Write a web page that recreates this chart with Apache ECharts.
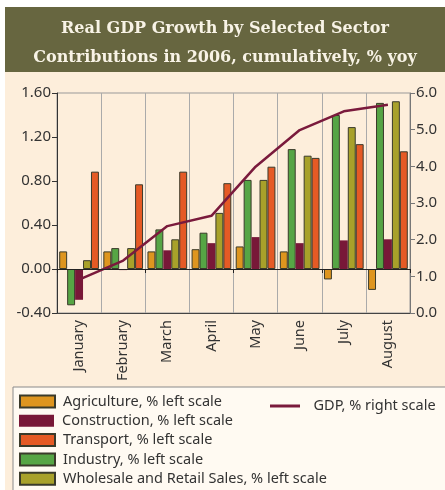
<!DOCTYPE html>
<html>
<head>
<meta charset="utf-8">
<script src="https://cdn.jsdelivr.net/npm/echarts@6/dist/echarts.min.js"></script>
<style>
html,body{margin:0;padding:0;background:#fff;}
#c{width:445px;height:490px;}
</style>
</head>
<body>
<div id="c"></div>
<script>
const months = ['January','February','March','April','May','June','July','August'];
const agriculture = [0.16, 0.16, 0.16, 0.18, 0.205, 0.16, -0.095, -0.19];
const industry = [-0.33, 0.19, 0.36, 0.33, 0.81, 1.09, 1.40, 1.51];
const construction = [-0.28, -0.01, 0.17, 0.235, 0.29, 0.235, 0.26, 0.27];
const wholesale = [0.08, 0.19, 0.27, 0.51, 0.81, 1.03, 1.29, 1.525];
const transport = [0.885, 0.77, 0.885, 0.78, 0.93, 1.01, 1.135, 1.07];
const gdp = [0.91, 1.43, 2.37, 2.65, 3.99, 4.99, 5.50, 5.68];
const leftTicks = [-0.4, 0, 0.4, 0.8, 1.2, 1.6];
const rightTicks = [0, 1, 2, 3, 4, 5, 6];
const barNames = ['Agriculture, % left scale','Construction, % left scale','Transport, % left scale','Industry, % left scale','Wholesale and Retail Sales, % left scale'];

const FONT = 'Noto Sans';
const chart = echarts.init(document.getElementById('c'));
const barBorder = {borderColor:'#3a3a2a', borderWidth:1};
function bar(name, data, color, border){
  return {name, type:'bar', data, xAxisIndex:0, yAxisIndex:0, barGap:'0%', barCategoryGap:'10%',
    itemStyle: Object.assign({color}, border ? barBorder : {borderWidth:0}), z:2};
}
const legendText = {fontFamily:FONT, fontSize:14.5, color:'#333', padding:[0,0,0,3]};
const legends = barNames.map((n,i)=>({data:[n], left:19, top:394 + i*19.3, itemWidth:35, itemHeight:12,
  padding:0, icon:'rect', textStyle:legendText}));
legends.push({data:[{name:'GDP, % right scale', icon:'path://M0,0 L10,0 L10,1 L0,1 Z'}],
  left:270, top:398.5, itemWidth:35, itemHeight:3, padding:0,
  textStyle:Object.assign({}, legendText, {padding:[0,0,0,6]})});

chart.setOption({
  animation:false,
  backgroundColor:'#fdeedb',
  graphic:[
    {type:'rect', shape:{x:0,y:0,width:445,height:7}, style:{fill:'#ffffff'}, silent:true, z:-10},
    {type:'rect', shape:{x:0,y:0,width:5,height:490}, style:{fill:'#ffffff'}, silent:true, z:-10},
    {type:'rect', shape:{x:5,y:7,width:440,height:65}, style:{fill:'#676640'}, silent:true, z:-5},
    {type:'text', x:225, y:14, style:{text:'Real GDP Growth by Selected Sector\nContributions in 2006, cumulatively, % yoy',
      fill:'#f8f3e6', fontFamily:'DejaVu Serif', fontWeight:'bold', fontSize:16,
      textAlign:'center', lineHeight:29}, silent:true},
    {type:'rect', shape:{x:13,y:387,width:440,height:110}, style:{fill:'#fffaf2', stroke:'#8a8a8a', lineWidth:1}, silent:true, z:-5}
  ],
  grid:{left:57, right:35, top:93, bottom:177, show:true, borderColor:'#999', borderWidth:1},
  xAxis:[
    {type:'category', data:months, position:'bottom',
      axisLine:{onZero:false, lineStyle:{color:'#444'}},
      axisTick:{show:false},
      splitLine:{show:true, lineStyle:{color:'#aaa', width:1}},
      axisLabel:{rotate:90, fontFamily:FONT, fontSize:14.5, color:'#333', margin:7}},
    {type:'category', data:months, position:'bottom',
      axisLine:{onZero:true, onZeroAxisIndex:0, lineStyle:{color:'#222', width:1}},
      axisTick:{show:true, length:4, lineStyle:{color:'#222'}},
      axisLabel:{show:false}, splitLine:{show:false}, z:5}
  ],
  yAxis:[
    {type:'value', min:-0.4, max:1.6, interval:0.4, position:'left',
      axisLine:{show:true, lineStyle:{color:'#333'}},
      axisTick:{show:true, length:5, lineStyle:{color:'#333'}},
      splitLine:{show:false},
      axisLabel:{fontFamily:FONT, fontSize:15, color:'#333', margin:6, formatter:v=>v.toFixed(2)}},
    {type:'value', min:0, max:6, interval:1, position:'right',
      axisLine:{show:true, lineStyle:{color:'#777'}},
      axisTick:{show:true, length:5, lineStyle:{color:'#777'}},
      splitLine:{show:false},
      axisLabel:{fontFamily:FONT, fontSize:15, color:'#333', margin:6, formatter:v=>v.toFixed(1)}}
  ],
  legend:legends,
  series:[
    bar('Agriculture, % left scale', agriculture, '#de951f', true),
    bar('Industry, % left scale', industry, '#56a545', true),
    bar('Construction, % left scale', construction, '#781838', false),
    bar('Wholesale and Retail Sales, % left scale', wholesale, '#a8a12a', true),
    bar('Transport, % left scale', transport, '#e55a25', true),
    {name:'GDP, % right scale', type:'line', data:gdp, xAxisIndex:0, yAxisIndex:1, symbol:'none',
      lineStyle:{color:'#7a1a3c', width:2.5}, itemStyle:{color:'#7a1a3c'}, z:4}
  ]
});
</script>
</body>
</html>
